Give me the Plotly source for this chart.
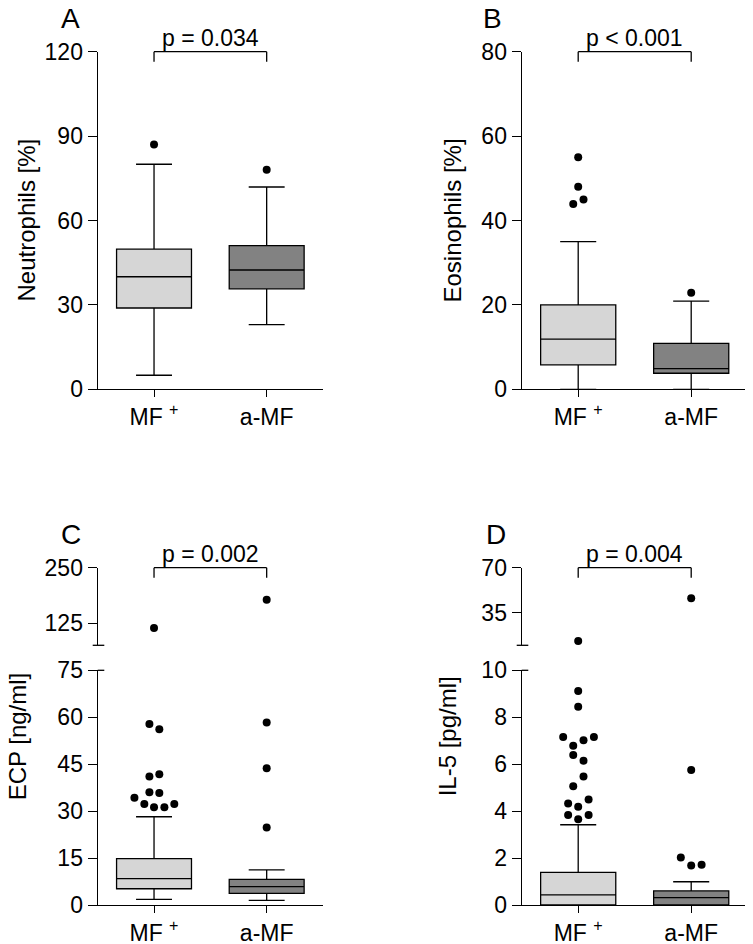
import plotly.graph_objects as go

W, H = 753, 944
PAGE_OFFSET = 8  # default body margin of the html page
FONT = "Liberation Sans, Arial, sans-serif"

# ---------------- data ----------------
groups = ["MF <sup>+</sup>", "a-MF"]

# box statistics: [lower whisker, Q1, median, Q3, upper whisker]
neut_mf = [5.0, 28.9, 40.0, 49.8, 80.0]
neut_amf = [23.0, 35.7, 42.4, 51.1, 71.9]
eos_mf = [0.0, 5.8, 11.9, 20.0, 35.0]
eos_amf = [0.0, 3.8, 4.9, 10.9, 20.9]
ecp_mf = [1.8, 5.2, 8.4, 14.8, 28.2]
ecp_amf = [1.5, 3.7, 5.9, 8.2, 11.2]
il5_mf = [0.0, 0.0, 0.43, 1.39, 3.42]
il5_amf = [0.0, 0.0, 0.31, 0.60, 0.99]

# outliers and their horizontal spread (beeswarm offsets)
neut_mf_out = [87.0]
neut_mf_dx = [0]
neut_amf_out = [78.0]
neut_amf_dx = [0]
eos_mf_out = [55.0, 48.0, 45.0, 43.9]
eos_mf_dx = [0, 0, 0.047, -0.044]
eos_amf_out = [22.9]
eos_amf_dx = [0]
ecp_mf_out = [114.0, 57.8, 56.2, 41.1, 41.8, 36.0, 35.8, 34.3, 32.3, 31.2, 31.2, 32.3]
ecp_mf_dx = [0, -0.041, 0.047, -0.041, 0.047, -0.041, 0.047, -0.174, -0.086, 0, 0.092, 0.18]
ecp_amf_out = [178.0, 58.3, 43.7, 24.8]
ecp_amf_dx = [0, 0, 0, 0]
il5_mf_out = [13.4, 9.12, 8.45, 7.16, 7.16, 7.02, 6.79, 6.39, 6.15, 5.48, 5.06, 4.5, 4.32, 4.19, 3.84, 3.84, 3.65]
il5_mf_dx = [0, 0, 0, -0.133, 0.139, 0.047, -0.044, -0.044, 0.047, 0.047, -0.044, 0.092, -0.089, 0, -0.089, 0.092, 0]
il5_amf_out = [46.3, 5.75, 2.02, 1.68, 1.72]
il5_amf_dx = [0, 0, -0.092, 0, 0.092]

p_values = ["p = 0.034", "p < 0.001", "p = 0.002", "p = 0.004"]
panel_letters = ["A", "B", "C", "D"]
y_titles = ["Neutrophils [%]", "Eosinophils [%]", "ECP [ng/ml]", "IL-5 [pg/ml]"]

# ---------------- layout geometry (page pixels) ----------------
def fx(x):
    return (x - PAGE_OFFSET) / W

def fy(y):
    return 1 - (y - PAGE_OFFSET) / H

XL = [97.7, 323.0]
XR = [521.7, 747.7]
Y_TOP = [51.7, 389.3]
Y_LOW = [670.3, 905.0]
Y_UP = [567.7, 645.3]
XRANGE = [-0.5, 1.5]

LIGHT = "#d6d6d6"
DARK = "#828282"
LW = 1.3

fig = go.Figure()


def cat_px(xpx, i):
    return xpx[0] + (i - XRANGE[0]) / (XRANGE[1] - XRANGE[0]) * (xpx[1] - xpx[0])


def add_box(stats, i, color, xa, ya):
    fig.add_trace(go.Box(
        x=[i], lowerfence=[stats[0]], q1=[stats[1]], median=[stats[2]],
        q3=[stats[3]], upperfence=[stats[4]],
        width=0.665, whiskerwidth=0.48, fillcolor=color,
        line=dict(color="black", width=LW), boxpoints=False,
        showlegend=False, hoverinfo="skip", xaxis=xa, yaxis=ya))


def add_out(vals, dx, i, xa, ya):
    if not vals:
        return
    fig.add_trace(go.Scatter(
        x=[i + d for d in dx], y=vals, mode="markers",
        marker=dict(color="black", size=8), cliponaxis=False,
        showlegend=False, hoverinfo="skip", xaxis=xa, yaxis=ya))


def split(vals, dx, thr):
    lo = [(v, d) for v, d in zip(vals, dx) if v <= thr]
    hi = [(v, d) for v, d in zip(vals, dx) if v > thr]
    return ([v for v, _ in lo], [d for _, d in lo]), ([v for v, _ in hi], [d for _, d in hi])


# Panel A
add_box(neut_mf, 0, LIGHT, "x", "y")
add_box(neut_amf, 1, DARK, "x", "y")
add_out(neut_mf_out, neut_mf_dx, 0, "x", "y")
add_out(neut_amf_out, neut_amf_dx, 1, "x", "y")
# Panel B
add_box(eos_mf, 0, LIGHT, "x2", "y2")
add_box(eos_amf, 1, DARK, "x2", "y2")
add_out(eos_mf_out, eos_mf_dx, 0, "x2", "y2")
add_out(eos_amf_out, eos_amf_dx, 1, "x2", "y2")
# Panel C (broken axis at 75)
add_box(ecp_mf, 0, LIGHT, "x3", "y3")
add_box(ecp_amf, 1, DARK, "x3", "y3")
for vals, dx, i in [(ecp_mf_out, ecp_mf_dx, 0), (ecp_amf_out, ecp_amf_dx, 1)]:
    (lv, ld), (hv, hd) = split(vals, dx, 75)
    add_out(lv, ld, i, "x3", "y3")
    add_out(hv, hd, i, "x3", "y5")
# Panel D (broken axis at 10)
add_box(il5_mf, 0, LIGHT, "x4", "y4")
add_box(il5_amf, 1, DARK, "x4", "y4")
for vals, dx, i in [(il5_mf_out, il5_mf_dx, 0), (il5_amf_out, il5_amf_dx, 1)]:
    (lv, ld), (hv, hd) = split(vals, dx, 10)
    add_out(lv, ld, i, "x4", "y4")
    add_out(hv, hd, i, "x4", "y6")

tickfont = dict(family=FONT, size=23, color="black")
common = dict(showline=True, linecolor="black", linewidth=LW, ticks="outside",
              tickcolor="black", tickwidth=LW, showgrid=False, zeroline=False,
              tickfont=tickfont)


def xaxis(xpx, anchor):
    return dict(domain=[fx(xpx[0]), fx(xpx[1])], range=XRANGE, tickvals=[0, 1],
                ticktext=groups, ticklen=7, anchor=anchor, **common)


def yaxis(ypx, rng, tv, anchor):
    return dict(domain=[fy(ypx[1]), fy(ypx[0])], range=rng, tickvals=tv,
                ticklen=9, anchor=anchor, **common)


fig.update_layout(
    width=W, height=H, margin=dict(l=0, r=0, t=0, b=0, autoexpand=False),
    paper_bgcolor="white", plot_bgcolor="white", showlegend=False,
    xaxis=xaxis(XL, "y"), xaxis2=xaxis(XR, "y2"),
    xaxis3=xaxis(XL, "y3"), xaxis4=xaxis(XR, "y4"),
    yaxis=yaxis(Y_TOP, [0, 120], [0, 30, 60, 90, 120], "x"),
    yaxis2=yaxis(Y_TOP, [0, 80], [0, 20, 40, 60, 80], "x2"),
    yaxis3=yaxis(Y_LOW, [0, 75], [0, 15, 30, 45, 60, 75], "x3"),
    yaxis4=yaxis(Y_LOW, [0, 10], [0, 2, 4, 6, 8, 10], "x4"),
    yaxis5=yaxis(Y_UP, [75, 250], [125, 250], "x3"),
    yaxis6=yaxis(Y_UP, [10, 70], [35, 70], "x4"),
)

shapes = []
annotations = []
line = dict(color="black", width=LW)
panels = [(XL, Y_TOP[0], Y_TOP), (XR, Y_TOP[0], Y_TOP), (XL, Y_UP[0], Y_LOW), (XR, Y_UP[0], Y_LOW)]
title_x = [26, 452, 17, 447]
letter_pos = [(70.7, 18.5), (492.7, 18.5), (70.7, 534.0), (496.0, 534.0)]
for k, (xpx, ytop, ybot) in enumerate(panels):
    c0, c1 = cat_px(xpx, 0), cat_px(xpx, 1)
    # significance bracket
    shapes.append(dict(type="line", xref="paper", yref="paper", x0=fx(c0), x1=fx(c1),
                       y0=fy(ytop), y1=fy(ytop), line=line))
    for c in (c0, c1):
        shapes.append(dict(type="line", xref="paper", yref="paper", x0=fx(c), x1=fx(c),
                           y0=fy(ytop), y1=fy(ytop + 10), line=line))
    annotations.append(dict(text=p_values[k], xref="paper", yref="paper",
                            x=fx((c0 + c1) / 2), y=fy(ytop + 1), xanchor="center",
                            yanchor="bottom", showarrow=False,
                            font=dict(family=FONT, size=23, color="black")))
    # panel letter
    lx, ly = letter_pos[k]
    annotations.append(dict(text=panel_letters[k], xref="paper", yref="paper", x=fx(lx), y=fy(ly),
                            xanchor="center", yanchor="middle", showarrow=False,
                            font=dict(family=FONT, size=28, color="black")))
    # y title
    annotations.append(dict(text=y_titles[k], xref="paper", yref="paper", x=fx(title_x[k]),
                            y=fy((ytop + ybot[1]) / 2), xanchor="center", yanchor="middle",
                            textangle=-90, showarrow=False,
                            font=dict(family=FONT, size=24, color="black")))

# axis-break marks
for xpx in (XL, XR):
    ax = xpx[0]
    shapes.append(dict(type="line", xref="paper", yref="paper", x0=fx(ax - 5), x1=fx(ax + 6.6),
                       y0=fy(Y_UP[1]), y1=fy(Y_UP[1]), line=line))
    shapes.append(dict(type="line", xref="paper", yref="paper", x0=fx(ax), x1=fx(ax + 6.6),
                       y0=fy(Y_LOW[0]), y1=fy(Y_LOW[0]), line=line))

fig.update_layout(shapes=shapes, annotations=annotations)
fig.write_html("out.html")
